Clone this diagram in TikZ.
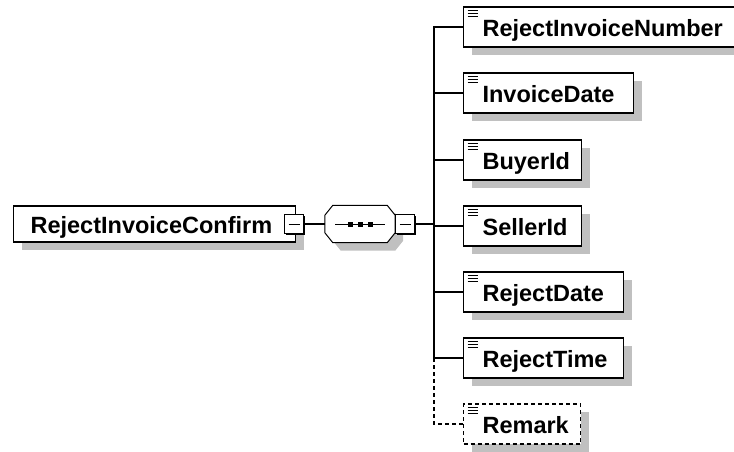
\documentclass[tikz,border=0pt]{standalone}
\usepackage{fontspec}
\setmainfont{Liberation Sans}
\usetikzlibrary{shadows}
\definecolor{shadowgray}{RGB}{192,192,192}
\newcommand{\seqoutline}[1]{([xshift=8pt]#1.north west) -- ([xshift=-8pt]#1.north east)
  -- ([yshift=-10pt]#1.north east) -- ([yshift=10pt]#1.south east)
  -- ([xshift=-8pt]#1.south east) -- ([xshift=8pt]#1.south west)
  -- ([yshift=10pt]#1.south west) -- ([yshift=-10pt]#1.north west) -- cycle}
\tikzset{
  basebox/.style={draw, fill=white, line width=1.2pt, anchor=west, inner sep=0pt,
    align=left, text height=22pt, text depth=3pt,
    general shadow={fill=shadowgray, shadow xshift=8pt, shadow yshift=-8pt}},
  rootbox/.style={basebox, minimum height=36pt, text width=#1,
    execute at begin node={\noindent\hspace*{17pt}}},
  elem/.style={basebox, minimum height=40pt, text width=#1,
    execute at begin node={\noindent\hspace*{19pt}},
    path picture={\foreach \k in {3.5,6.5,9.5}
      \draw[solid, line width=1.4pt] ([xshift=4pt,yshift=-\k pt]path picture bounding box.north west) -- ++(10,0);}},
  optelem/.style={elem=#1, dash pattern=on 4pt off 3pt},
  toggle/.style={draw, fill=white, line width=1pt, minimum size=19pt, inner sep=0pt,
    general shadow={fill=black, shadow xshift=1.6pt, shadow yshift=-1.6pt},
    path picture={\draw[line width=1pt] ([xshift=4pt]path picture bounding box.west) -- ([xshift=-4pt]path picture bounding box.east);}},
  seqbox/.style={minimum width=70pt, minimum height=37pt, inner sep=0pt},
  link/.style={line width=1.2pt}
}
\begin{document}
\begin{tikzpicture}[x=1pt,y=-1pt,font=\fontsize{23.5}{26}\selectfont\bfseries]
\clip (0,0) rectangle (734,452);
\node[rootbox=282] (root) at (13,224) {RejectInvoiceConfirm};
\node[seqbox] (seq) at (360,224) {};
\fill[shadowgray, transform canvas={shift={(8,8)}}] \seqoutline{seq};
\draw[line width=1pt, fill=white] \seqoutline{seq};
\draw[line width=1pt] ([xshift=-25pt]seq.center) -- ([xshift=25pt]seq.center);
\foreach \d in {-10,0,10}
  \fill ([xshift=\d pt]seq.center) +(-2.5,-2.5) rectangle +(2.5,2.5);
\node[toggle] (rootopen) at (294,224) {};
\node[toggle] (seqopen) at (405,224) {};
\coordinate (bus) at (434,224);

\node[elem=290] (number) at (463,27) {RejectInvoiceNumber};
\node[elem=170] (invdate) at (463,93) {InvoiceDate};
\node[elem=118] (buyer) at (463,160) {BuyerId};
\node[elem=118] (seller) at (463,226) {SellerId};
\node[elem=160] (rejdate) at (463,292) {RejectDate};
\node[elem=160] (rejtime) at (463,358) {RejectTime};
\node[optelem=117] (remark) at (463,424) {Remark};

\draw[link] (rootopen) -- (seq.west);
\draw[link] (seqopen) -- (bus);
\foreach \n in {number,invdate,buyer,seller,rejdate,rejtime} {
\draw[link] (bus) |- (\n.west);}
\draw[link, dash pattern=on 4pt off 3pt] (bus |- rejtime.west) |- (remark.west);
\end{tikzpicture}
\end{document}
